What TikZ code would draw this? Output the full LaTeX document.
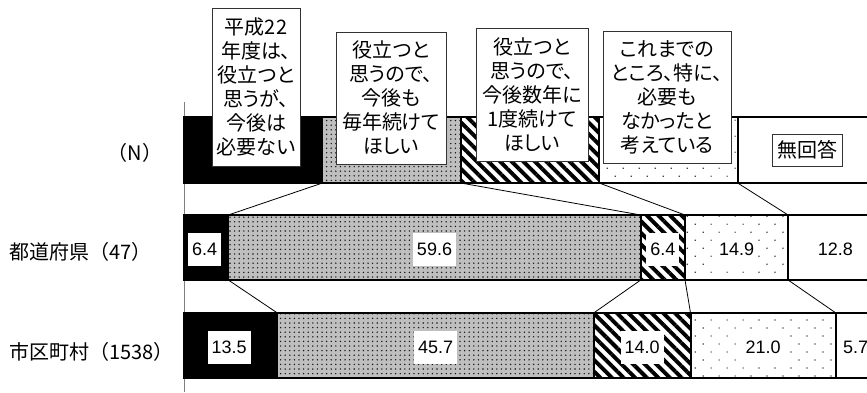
\documentclass[tikz,border=0pt]{standalone}
\usepackage{fontspec}
\setmainfont{Liberation Sans}
\newfontfamily\jpfont[RawFeature=+palt]{Noto Sans CJK JP}
\newfontfamily\jpfull{Noto Sans CJK JP}
\usetikzlibrary{patterns.meta}
\newcommand\barseg[6]{%
  \pgfmathsetmacro\segxa{184+6.92*#3}%
  \pgfmathsetmacro\segxb{184+6.92*#4}%
  \pgfmathsetmacro\segwd{\segxb-\segxa}%
  \node[#2, minimum width=\segwd pt, minimum height=#6pt, anchor=north west] (#1) at (\segxa,#5) {};}
\tikzset{
  seg/.style={draw=black, line width=2pt, inner sep=0pt, outer sep=0pt, rectangle},
  sblack/.style={seg, fill=black},
  sgrey/.style={seg, preaction={fill=gray!50}, pattern={Dots[distance=4.6pt,radius=0.8pt]}, pattern color=black!90},
  shatch/.style={seg, preaction={fill=white}, pattern={Lines[angle=-45,distance=8.2pt,line width=3.9pt]}, pattern color=black},
  sdots/.style={seg, preaction={fill=white}, pattern={Dots[angle=45,distance=11.3pt,radius=0.85pt]}, pattern color=black!75},
  swhite/.style={seg, fill=white},
  conn/.style={draw=black, line width=0.8pt},
  val/.style={fill=white, inner xsep=4pt, inner ysep=0pt, minimum height=33pt, yshift=-2pt, font=\fontsize{18}{18}\selectfont},
  legbox/.style={draw=black!80, line width=0.9pt, fill=white, align=center, inner sep=0pt, font=\fontsize{20}{24}\selectfont\jpfont},
  rowlab/.style={inner sep=0pt, font=\fontsize{20}{24}\selectfont\jpfull}
}
\begin{document}
\begin{tikzpicture}[x=1pt,y=-1pt]
\useasboundingbox (0,0) rectangle (867,392);
\clip (0,0) rectangle (867,392);
% axis
\coordinate (axtop) at (184,102);
\coordinate (axbot) at (184,392);
\draw[gray, line width=1pt] (axtop) -- (axbot);
% row 1 (legend row)
\barseg{l1}{sblack}{0}{20}{117}{66}
\barseg{l2}{sgrey}{20}{40}{117}{66}
\barseg{l3}{shatch}{40}{60}{117}{66}
\barseg{l4}{sdots}{60}{80}{117}{66}
\barseg{l5}{swhite}{80}{100}{117}{66}
% row 2
\barseg{p1}{sblack}{0}{6.4}{215}{65}
\barseg{p2}{sgrey}{6.4}{66.0}{215}{65}
\barseg{p3}{shatch}{66.0}{72.4}{215}{65}
\barseg{p4}{sdots}{72.4}{87.3}{215}{65}
\barseg{p5}{swhite}{87.3}{100.1}{215}{65}
% row 3
\barseg{m1}{sblack}{0}{13.5}{313}{65}
\barseg{m2}{sgrey}{13.5}{59.2}{313}{65}
\barseg{m3}{shatch}{59.2}{73.2}{313}{65}
\barseg{m4}{sdots}{73.2}{94.2}{313}{65}
\barseg{m5}{swhite}{94.2}{99.9}{313}{65}
% connectors
\draw[conn] (l2.south west) -- (p2.north west);
\draw[conn] (l3.south west) -- (p3.north west);
\draw[conn] (l4.south west) -- (p4.north west);
\draw[conn] (l5.south west) -- (p5.north west);
\draw[conn] (p2.south west) -- (m2.north west);
\draw[conn] (p3.south west) -- (m3.north west);
\draw[conn] (p4.south west) -- (m4.north west);
\draw[conn] (p5.south west) -- (m5.north west);
% values
\node[val] (v21) at ([xshift=-1.5pt]p1.center) {6.4};
\node[val] (v22) at (p2.center) {59.6};
\node[val] (v23) at (p3.center) {6.4};
\node[val] (v24) at (p4.center) {14.9};
\node[val] (v25) at ([xshift=3pt]p5.center) {12.8};
\node[val] (v31) at ([xshift=-1.5pt]m1.center) {13.5};
\node[val] (v32) at (m2.center) {45.7};
\node[val] (v33) at (m3.center) {14.0};
\node[val] (v34) at (m4.center) {21.0};
\node[val] (v35) at (m5.center) {5.7};
% legend boxes
\node[legbox, minimum width=88pt, minimum height=158pt] (k1) at (256,87) {平成22\\年度は、\\役立つと\\思うが、\\今後は\\必要ない};
\node[legbox, minimum width=110pt, minimum height=132pt] (k2) at (391,98) {役立つと\\思うので、\\今後も\\毎年続けて\\ほしい};
\node[legbox, minimum width=112pt, minimum height=133pt] (k3) at (532,94.5) {役立つと\\思うので、\\今後数年に\\1度続けて\\ほしい};
\node[legbox, minimum width=128pt, minimum height=132pt] (k4) at (667,97) {これまでの\\ところ、特に、\\必要も\\なかったと\\考えている};
\node[legbox, minimum width=70pt, minimum height=32pt] (k5) at (807,150) {無回答};
% row labels
\node[rowlab] (rn) at (135,153) {（N）};
\node[rowlab, anchor=west] (rp) at (9,252) {都道府県（47）};
\node[rowlab, anchor=west] (rm) at (9,352) {市区町村（1538）};
\end{tikzpicture}
\end{document}
